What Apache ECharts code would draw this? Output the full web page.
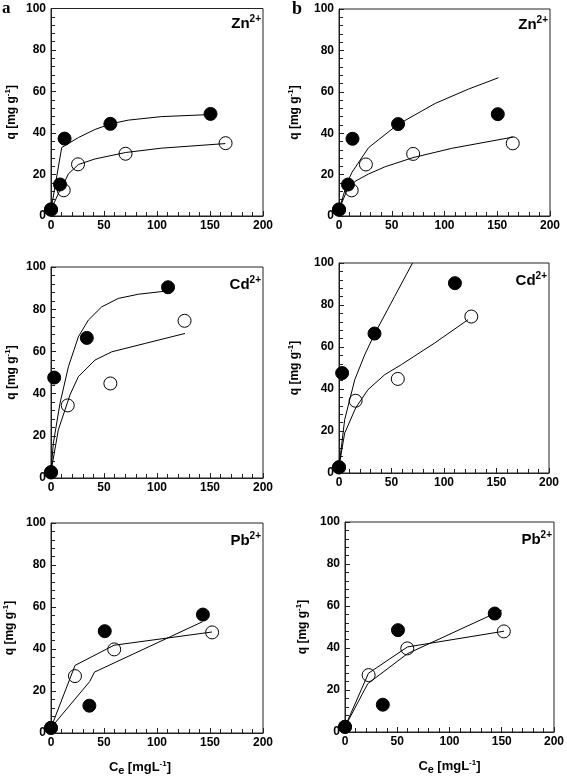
<!DOCTYPE html>
<html><head><meta charset="utf-8">
<script src="https://cdn.jsdelivr.net/npm/echarts@6/dist/echarts.min.js"></script>
<style>html,body{margin:0;padding:0;background:#fff}#c{width:567px;height:781px}</style>
</head><body><div id="c"></div>
<script>
// ---- data ----
const xTicks = [0, 50, 100, 150, 200];
const yTicks = [0, 20, 40, 60, 80, 100];
const ionLabels = ['Zn', 'Cd', 'Pb'];
const panelLetters = ['a', 'b'];

// Zn2+
const znPtsFilled = [[0, 3.2], [8.5, 15.2], [12.8, 37.3], [56, 44.4], [150.5, 49.2]];
const znPtsOpen   = [[0, 3.0], [12, 12.4], [25.5, 24.9], [70.3, 30.0], [164.7, 35.1]];
const znA_fitFilled = [[0, 2.9], [10.1, 33], [25.8, 37.8], [41.5, 41.7], [56.3, 44.4], [72.9, 46.2], [104.4, 47.9], [150.6, 48.9]];
const znA_fitOpen   = [[0, 3], [8, 12], [12, 15.5], [16.4, 20.3], [25.8, 24.8], [41.5, 27.5], [70.4, 30.6], [104.4, 32.7], [164.5, 34.9]];
const znB_fitFilled = [[0, 3], [8, 16.5], [12.3, 21.1], [28, 33], [55.5, 44.1], [91.2, 54.4], [122.7, 61.3], [151.1, 66.8]];
const znB_fitOpen   = [[0, 3], [8, 13], [15.4, 16.8], [28, 20.3], [43.8, 23.8], [70.1, 28.2], [107, 32.7], [164.8, 38.1]];

// Cd2+
const cdPtsFilled = [[0, 2.8], [3, 47.6], [33.8, 66.4], [110.4, 90.4]];
const cdPtsOpen   = [[0, 2.6], [15.8, 34.4], [56, 44.8], [126, 74.5]];
const cdA_fitFilled = [[0, 3], [2.2, 16.5], [8.5, 35.4], [16.4, 52.7], [25.8, 66.9], [35.2, 74.8], [47.8, 81.1], [63.5, 85.1], [82.4, 87.1], [110.7, 88.7]];
const cdA_fitOpen   = [[0, 3], [6.9, 22.8], [17.9, 39.4], [25.8, 48], [41.5, 55.9], [57.3, 59.8], [89, 63.8], [126.4, 68.5]];
const cdB_fitFilled = [[0, 3], [5.4, 25.4], [15, 44.4], [24.5, 56.3], [34, 66.3], [53, 84.1], [70, 100]];
const cdB_fitOpen   = [[0, 3], [5.4, 19], [15.9, 31], [27.6, 39.7], [43.5, 46.8], [59.4, 51.6], [91.1, 61.9], [122.9, 73]];

// Pb2+
const pbPtsFilled = [[0, 2.5], [36.2, 13], [50.7, 48.5], [143.3, 56.4]];
const pbPtsOpen   = [[0, 2.4], [22.6, 27.1], [59.6, 39.8], [152, 47.9]];
const pbA_fitFilled = [[0, 2.5], [36.5, 24.5], [41, 29], [143, 53]];
const pbA_fitOpen   = [[0, 2.5], [22.7, 32.2], [59.5, 41.8], [151.9, 48.1]];
const pbB_fitFilled = [[0, 2.5], [21.8, 23], [59.8, 37.3], [150, 58]];
const pbB_fitOpen   = [[0, 2.5], [22.5, 28], [59.8, 40.5], [152.2, 48]];

// ---- layout ----
const grids = [
  {left: 51,  top: 6,   width: 212, height: 210},  // a Zn
  {left: 339, top: 6,   width: 211, height: 210},  // b Zn
  {left: 51,  top: 267, width: 212, height: 211},  // a Cd
  {left: 339, top: 263, width: 210, height: 210},  // b Cd
  {left: 51,  top: 523, width: 212, height: 210},  // a Pb
  {left: 345, top: 522, width: 211, height: 210}   // b Pb
];
const yNameGaps = [32, 37, 32, 37, 34, 35];
const panels = [
  {ion: 0, pf: znPtsFilled, po: znPtsOpen, lf: znA_fitFilled, lo: znA_fitOpen},
  {ion: 0, pf: znPtsFilled, po: znPtsOpen, lf: znB_fitFilled, lo: znB_fitOpen},
  {ion: 1, pf: cdPtsFilled, po: cdPtsOpen, lf: cdA_fitFilled, lo: cdA_fitOpen},
  {ion: 1, pf: cdPtsFilled, po: cdPtsOpen, lf: cdB_fitFilled, lo: cdB_fitOpen},
  {ion: 2, pf: pbPtsFilled, po: pbPtsOpen, lf: pbA_fitFilled, lo: pbA_fitOpen},
  {ion: 2, pf: pbPtsFilled, po: pbPtsOpen, lf: pbB_fitFilled, lo: pbB_fitOpen}
];

const FONT = 'Liberation Sans';
const axisColor = '#222';
const option = {
  animation: false,
  grid: grids.map(g => Object.assign({show: true, borderColor: axisColor, borderWidth: 1}, g)),
  xAxis: [], yAxis: [], series: []
};

const labelAxes = [];
const lineSeries = [], openSeries = [], filledSeries = [];
panels.forEach((p, i) => {
  const isBottom = i >= 4;
  const x = {
    gridIndex: i, type: 'value', min: xTicks[0], max: xTicks[xTicks.length - 1], interval: xTicks[1] - xTicks[0],
    axisLine: {show: true, lineStyle: {color: axisColor}},
    axisTick: {show: true, inside: true, length: 5},
    minorTick: {show: true, splitNumber: 5, length: 4},
    splitLine: {show: false},
    axisLabel: {color: '#000', fontFamily: FONT, fontWeight: 'bold', fontSize: 12, margin: 4}
  };
  if (isBottom) {
    x.name = '{c|C}{e|e} {c|[mgL}{s|-1}{c|]}';
    x.nameLocation = 'middle';
    x.nameGap = 26;
    x.nameTextStyle = {
      padding: i === 4 ? [0, 34, 0, 0] : [0, 0, 0, 0],
      rich: {
        c: {fontFamily: FONT, fontWeight: 'bold', fontSize: 13, color: '#000'},
        e: {fontFamily: FONT, fontWeight: 'bold', fontSize: 11, color: '#000', padding: [6, 0, 0, 0]},
        s: {fontFamily: FONT, fontWeight: 'bold', fontSize: 8, color: '#000', padding: [0, 0, 7, 0]}
      }
    };
  }
  option.xAxis.push(x);
  option.yAxis.push({
    gridIndex: i, type: 'value', min: yTicks[0], max: yTicks[yTicks.length - 1], interval: yTicks[1] - yTicks[0],
    axisLine: {show: true, lineStyle: {color: axisColor}},
    axisTick: {show: true, inside: true, length: 5},
    minorTick: {show: true, splitNumber: 5, length: 4},
    splitLine: {show: false},
    axisLabel: {color: '#000', fontFamily: FONT, fontWeight: 'bold', fontSize: 12, margin: 5},
    name: '{c|q [mg g}{s|-1}{c|]}',
    nameLocation: 'middle',
    nameGap: yNameGaps[i],
    nameTextStyle: {
      rich: {
        c: {fontFamily: FONT, fontWeight: 'bold', fontSize: 12, color: '#000'},
        s: {fontFamily: FONT, fontWeight: 'bold', fontSize: 8, color: '#000', padding: [0, 0, 7, 0]}
      }
    }
  });
  // ion label carried by a hidden top axis of the same grid
  labelAxes.push({
    gridIndex: i, type: 'value', position: 'top', min: xTicks[0], max: xTicks[xTicks.length - 1],
    axisLine: {show: false}, axisTick: {show: false}, axisLabel: {show: false}, splitLine: {show: false},
    name: '{c|' + ionLabels[p.ion] + '}{s|2+}',
    nameLocation: 'end', nameGap: -2,
    nameTextStyle: {
      align: 'right', verticalAlign: 'top', padding: [p.ion === 0 ? 6 : 8, 0, 0, 0],
      rich: {
        c: {fontFamily: FONT, fontWeight: 'bold', fontSize: 15, color: '#000'},
        s: {fontFamily: FONT, fontWeight: 'bold', fontSize: 10, color: '#000', padding: [0, 0, 9, 0]}
      }
    }
  });
  const lineBase = {type: 'line', xAxisIndex: i, yAxisIndex: i, showSymbol: false,
    lineStyle: {color: '#000', width: 1}};
  lineSeries.push(Object.assign({}, lineBase, {data: p.lo}));
  lineSeries.push(Object.assign({}, lineBase, {data: p.lf}));
  openSeries.push({type: 'scatter', xAxisIndex: i, yAxisIndex: i, data: p.po, symbolSize: 13,
    itemStyle: {color: '#fff', borderColor: '#000', borderWidth: 1, opacity: 1}});
  filledSeries.push({type: 'scatter', xAxisIndex: i, yAxisIndex: i, data: p.pf, symbolSize: 13,
    itemStyle: {color: '#000', borderColor: '#000', borderWidth: 1, opacity: 1}});
});
// panel letters carried by hidden top axes of the two top grids
[0, 1].forEach(k => {
  labelAxes.push({
    gridIndex: k, type: 'value', position: 'top', min: xTicks[0], max: xTicks[xTicks.length - 1],
    axisLine: {show: false}, axisTick: {show: false}, axisLabel: {show: false}, splitLine: {show: false},
    name: panelLetters[k], nameLocation: 'start', nameGap: k === 0 ? 49 : 47,
    nameTextStyle: {align: 'left', verticalAlign: 'middle', fontFamily: 'Liberation Serif',
      fontWeight: 'bold', fontSize: k === 0 ? 17 : 18, color: '#000'}
  });
});
option.xAxis = option.xAxis.concat(labelAxes);
option.series = lineSeries.concat(openSeries, filledSeries);

const chart = echarts.init(document.getElementById('c'));
chart.setOption(option);
</script></body></html>
